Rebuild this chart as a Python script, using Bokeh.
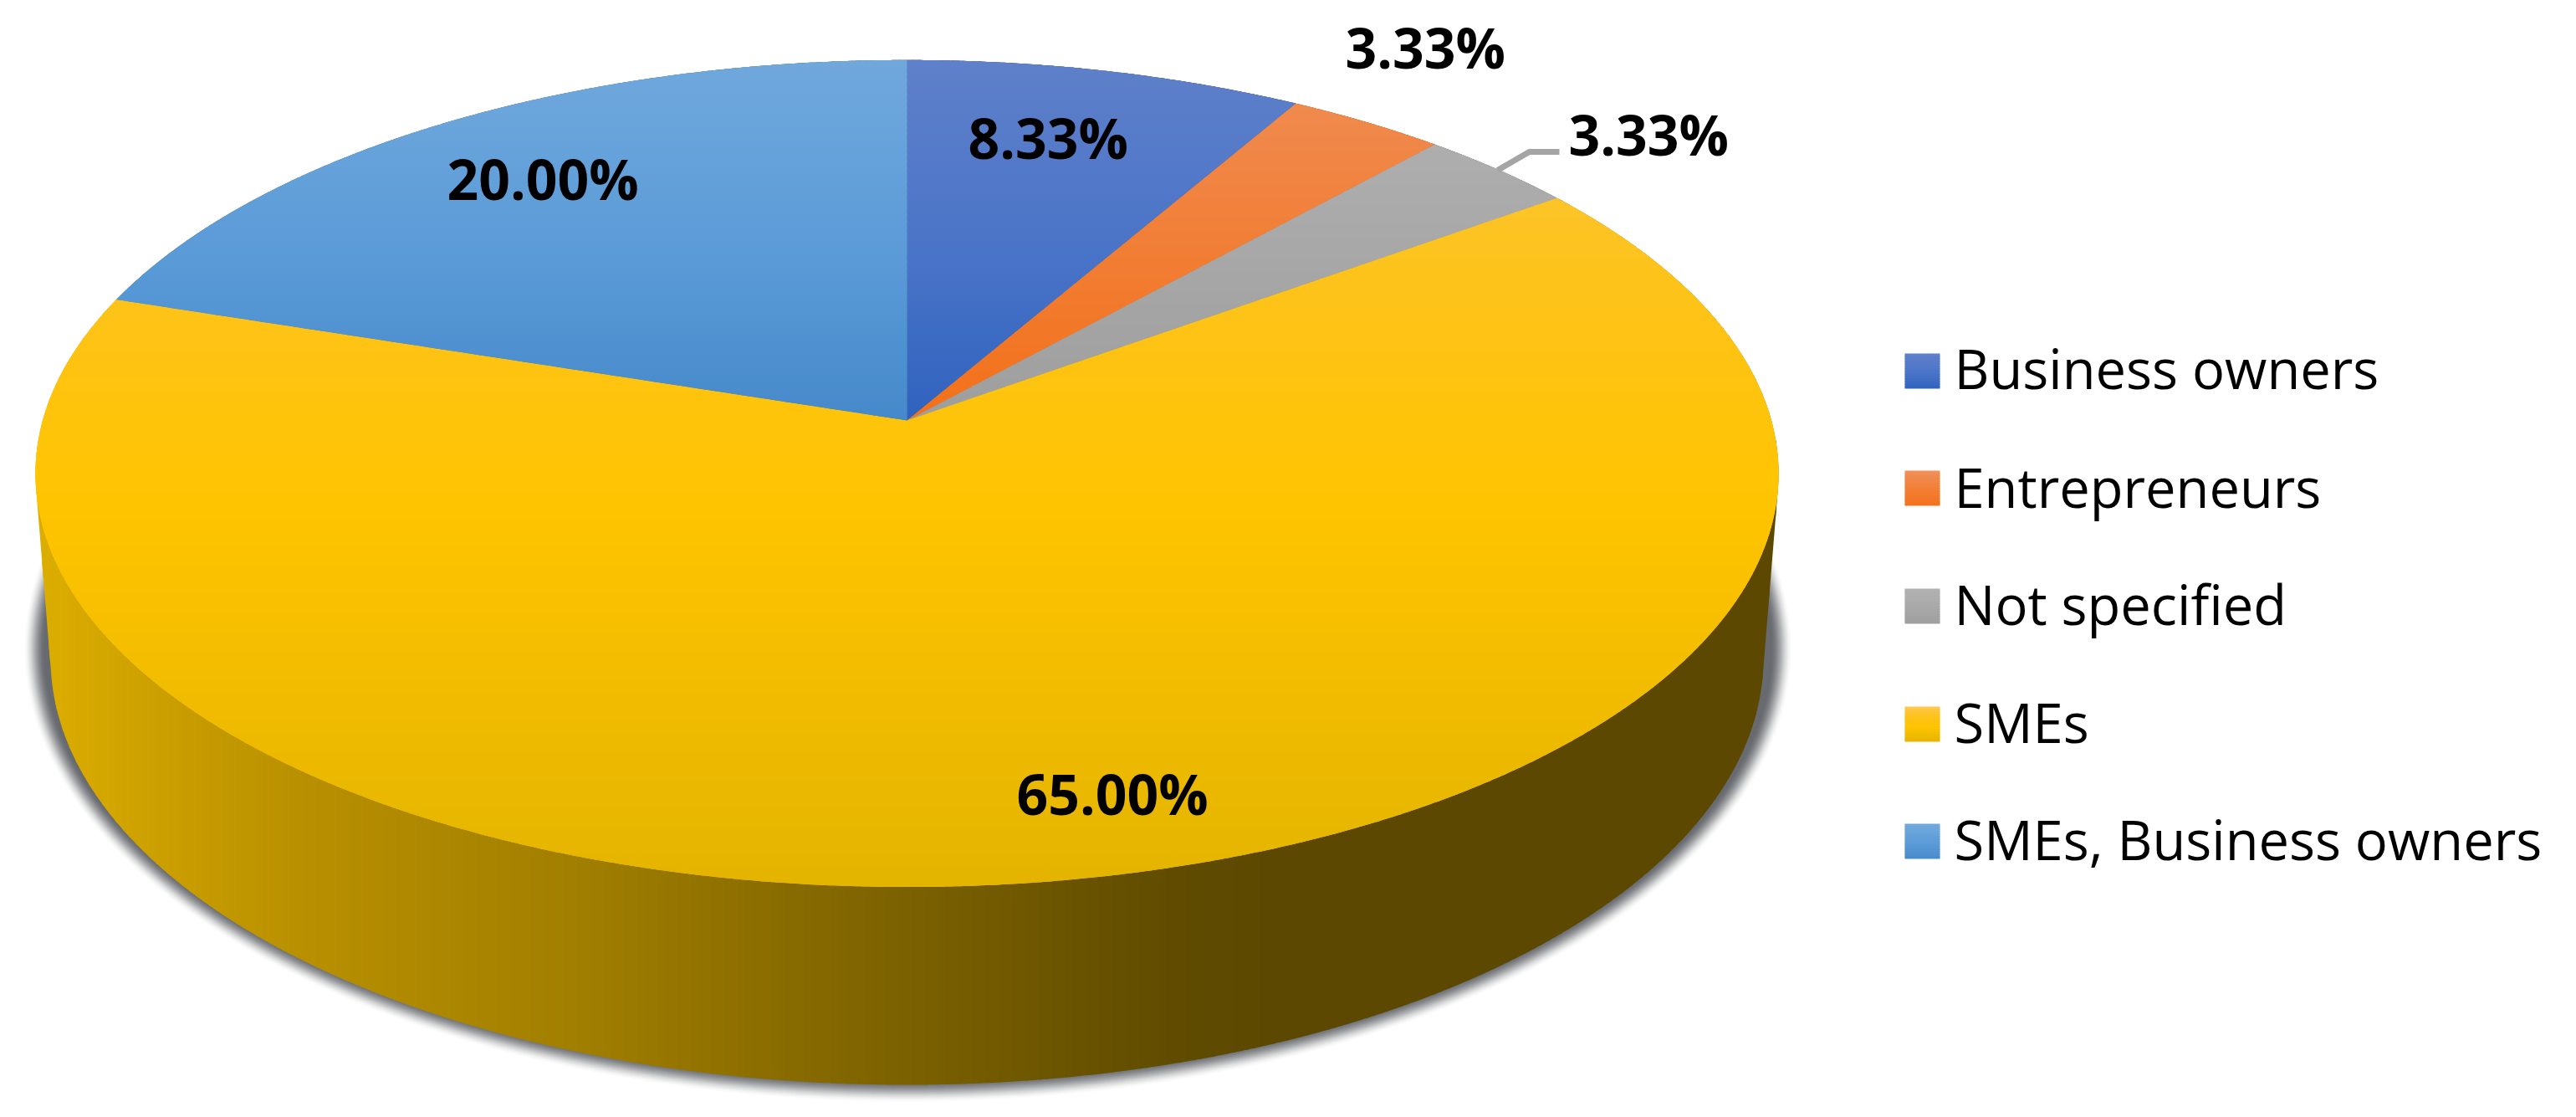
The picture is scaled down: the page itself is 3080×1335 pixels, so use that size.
import numpy as np
from bokeh.plotting import figure
from bokeh.models import Range1d
from bokeh.core.properties import value
from bokeh.embed import file_html
from bokeh.resources import INLINE

# ---- data ----
categories = ["Business owners", "Entrepreneurs", "Not specified", "SMEs", "SMEs, Business owners"]
shares = [8.33, 3.33, 3.33, 65.00, 20.00]
share_labels = ["8.33%", "3.33%", "3.33%", "65.00%", "20.00%"]

# ---- styling: colour stops (reference y, colour) for every slice ----
slice_stops = [
    [(71, "#5F80CA"), (300, "#4A74C8"), (502, "#2F62BE")],
    [(71, "#F29058"), (123, "#F08A4E"), (502, "#F37018")],
    [(71, "#B0B0B0"), (172, "#AEAEAE"), (502, "#9E9E9E")],
    [(71, "#FFC84A"), (130, "#FDC53C"), (300, "#FDC31E"), (606, "#FFC400"), (1060, "#E3B400")],
    [(71, "#70A8DC"), (300, "#5B9BD8"), (502, "#4689CA")],
]
side_stops = [(40, "#DDAE00"), (100, "#D6A800"), (350, "#B99000"), (700, "#A07E00"),
              (1050, "#7E6300"), (1400, "#604C00"), (1520, "#5C4800"), (2130, "#5C4800")]
leader_color = "#A5A5A5"
label_font = "Open Sans"
legend_font = "Open Sans"
label_size = 66
legend_size = 65

# projected disc: reference-pixel geometry of the pie's top face
CX, AY, A, B, K = 1084.0, 502.0, 1033.4, 486.0, 0.1284
# lower rim
RIM_CY, RIM_A, RIM_B = 786.0, 1024.0, 510.0


def rgb(h):
    return np.array([int(h[i:i + 2], 16) for i in (1, 3, 5)], float)


def ramp(stops, v):
    pos = [s[0] for s in stops]
    cols = np.array([rgb(s[1]) for s in stops])
    c = [np.interp(v, pos, cols[:, i]) for i in range(3)]
    return "#%02X%02X%02X" % tuple(int(round(x)) for x in c)


def project(turn_deg, r=1.0):
    t = np.radians(turn_deg)
    u, v = r * np.sin(t), r * np.cos(t)
    w = 1 + K * v
    return CX + A * u / w, AY - B * v / w


def clip(poly, axis, val, keep_greater):
    out = []
    n = len(poly)
    for i in range(n):
        a, b = poly[i], poly[(i + 1) % n]
        ina = a[axis] >= val if keep_greater else a[axis] <= val
        inb = b[axis] >= val if keep_greater else b[axis] <= val
        if ina:
            out.append(a)
        if ina != inb:
            f = (val - a[axis]) / (b[axis] - a[axis])
            out.append((a[0] + f * (b[0] - a[0]), a[1] + f * (b[1] - a[1])))
    return out


def bands(poly, axis, step, stops):
    xs, ys, cs = [], [], []
    vals = [p[axis] for p in poly]
    lo, hi = min(vals), max(vals)
    for v in np.arange(lo, hi, step):
        part = clip(clip(poly, axis, v, True), axis, v + step + 1.5, False)
        if len(part) >= 3:
            xs.append([p[0] for p in part])
            ys.append([p[1] for p in part])
            cs.append(ramp(stops, v + step / 2))
    return xs, ys, cs


def convex_hull(pts):
    pts = sorted(set(pts))
    def half(seq):
        h = []
        for p in seq:
            while len(h) >= 2 and (h[-1][0] - h[-2][0]) * (p[1] - h[-2][1]) - (h[-1][1] - h[-2][1]) * (p[0] - h[-2][0]) <= 0:
                h.pop()
            h.append(p)
        return h[:-1]
    return half(pts) + half(pts[::-1])


p = figure(width=3064, height=1319, x_range=Range1d(0, 3064), y_range=Range1d(1319, 0),
           output_backend="svg", toolbar_location=None, min_border=0)
p.axis.visible = False
p.grid.visible = False
p.outline_line_color = None
p.background_fill_color = "white"
p.border_fill_color = "white"

# soft shadow: stacked translucent ellipses building a smooth falloff
th = np.radians(np.arange(0, 360, 0.5))
d_vals = np.arange(13, -13.5, -1.0)
s = (13 - d_vals) / 26
opacity = 0.92 * s * s * (3 - 2 * s)
prev = np.concatenate([[0.0], opacity[:-1]])
layer_alpha = 1 - (1 - opacity) / (1 - prev)
p.patches([list(1085 + (1045 + d) * np.cos(th)) for d in d_vals],
          [list(775 + (530 + d) * np.sin(th)) for d in d_vals],
          fill_color="#5E6066", fill_alpha=layer_alpha.tolist(), line_color=None)

# side wall
tt = np.arange(0, 360, 0.25)
top_x, top_y = project(tt)
rim_x = CX + RIM_A * np.cos(np.radians(tt))
rim_y = RIM_CY + RIM_B * np.sin(np.radians(tt))
hull = convex_hull(list(zip(top_x.tolist(), top_y.tolist())) + list(zip(rim_x.tolist(), rim_y.tolist())))
xs, ys, cs = bands(hull, 0, 8, side_stops)
p.patches(xs, ys, fill_color=cs, line_color=None)

# slices of the top face
edges = np.cumsum([0] + shares) / sum(shares) * 360
polys = []
for a0, a1 in zip(edges[:-1], edges[1:]):
    ang = np.arange(a0, a1, 0.25).tolist() + [a1]
    ex, ey = project(np.array(ang))
    polys.append([(CX, AY)] + list(zip(ex.tolist(), ey.tolist())))
p.patches([[q[0] for q in pl] for pl in polys], [[q[1] for q in pl] for pl in polys],
          fill_color=[ramp(st, 500) for st in slice_stops], line_color=None)
for pl, st in zip(polys, slice_stops):
    xs, ys, cs = bands(pl, 1, 8, st)
    p.patches(xs, ys, fill_color=cs, line_color=None)

# leader line of the third label
p.line([1790, 1828, 1864], [203, 181, 181], line_color=leader_color, line_width=7)

# data labels (y is the vertical middle of the digits)
lab_x = [1157, 1608, 1875, 1215, 534]
lab_y = [163, 55, 159, 947, 212]
p.text(lab_x, lab_y, text=share_labels, text_font=value(label_font), text_font_style="bold",
       text_font_size=f"{label_size}px", text_color="black", text_align="left", text_baseline="middle")

# legend
swatch_top = [422, 562, 703, 844, 984]
for top, st in zip(swatch_top, slice_stops):
    lo, hi = st[0][0], st[-1][0]
    vals = np.arange(0, 42, 3)
    mapped = [ramp(st, lo + (hi - lo) * v / 42) for v in vals]
    p.quad(left=2277, right=2319, top=[top + v for v in vals],
           bottom=[min(top + v + 4, top + 42) for v in vals], fill_color=mapped, line_color=None)
leg_mid = [439, 581, 721, 862, 1002]
p.text([2336] * 5, leg_mid, text=categories, text_font=value(legend_font),
       text_font_size=f"{legend_size}px", text_color="black", text_align="left", text_baseline="middle")

open("out.html", "w").write(file_html(p, INLINE))
